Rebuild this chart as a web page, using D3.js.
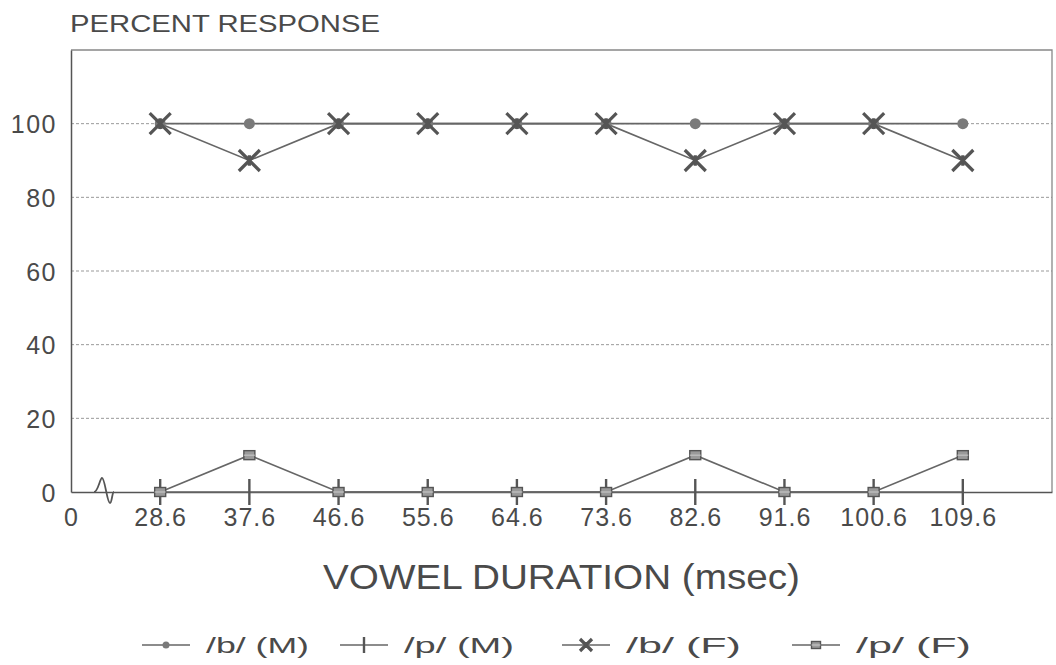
<!DOCTYPE html>
<html>
<head>
<meta charset="utf-8">
<script src="https://cdn.jsdelivr.net/npm/d3@7"></script>
<style>
  html, body { margin: 0; padding: 0; background: #fff; }
  svg text { font-family: "Liberation Sans", Arial, sans-serif; fill: #4a4a4a; }
</style>
</head>
<body>
<svg id="chart" width="1056" height="665"></svg>
<script>
// Vowel durations (msec) along the x axis; "0" sits at the origin before the axis break
const durations = ["28.6", "37.6", "46.6", "55.6", "64.6", "73.6", "82.6", "91.6", "100.6", "109.6"];
const yTicks = [0, 20, 40, 60, 80, 100];

// Percent response for each stimulus
const bMale   = [100, 100, 100, 100, 100, 100, 100, 100, 100, 100];
const pMale   = [0, 0, 0, 0, 0, 0, 0, 0, 0, 0];
const bFemale = [100, 90, 100, 100, 100, 100, 90, 100, 100, 90];
const pFemale = [0, 10, 0, 0, 0, 0, 10, 0, 0, 10];

const legendLabels = ["/b/ (M)", "/p/ (M)", "/b/ (F)", "/p/ (F)"];

const ink = "#555";
const svg = d3.select("#chart");

const margin = { left: 71, right: 1052, top: 50, bottom: 492 };

// slot 0 = origin, slots 1..10 = durations, slot 11 = right edge of frame
const x = d3.scaleLinear().domain([0, 11]).range([margin.left, margin.right]);
const y = d3.scaleLinear().domain([0, 120]).range([margin.bottom, margin.top]);
const xi = i => x(i + 1);

// Dotted horizontal grid lines
svg.append("g")
  .selectAll("line")
  .data(yTicks.filter(d => d > 0))
  .join("line")
  .attr("x1", margin.left).attr("x2", margin.right)
  .attr("y1", d => y(d)).attr("y2", d => y(d))
  .attr("stroke", "#999").attr("stroke-width", 1)
  .attr("stroke-dasharray", "3,2");

// Frame: top and right edges, light
svg.append("path")
  .attr("d", `M${margin.left},${margin.top}H${margin.right}V${margin.bottom}`)
  .attr("fill", "none").attr("stroke", "#888").attr("stroke-width", 1.3);

// Y axis
const yAxis = d3.axisLeft(y).tickValues(yTicks).tickSize(0).tickPadding(14);
const gy = svg.append("g").attr("transform", `translate(${margin.left},0)`).call(yAxis);
gy.select(".domain").attr("stroke", ink).attr("stroke-width", 1.5);
gy.selectAll("text").style("fill", "#4a4a4a").style("font-size", "25px")
  .attr("letter-spacing", 1.5).attr("dy", "0.36em");

// X axis
const xAxis = d3.axisBottom(x)
  .tickValues(d3.range(0, 11))
  .tickFormat(i => i === 0 ? "0" : durations[i - 1])
  .tickSize(0).tickPadding(18);
const gx = svg.append("g").attr("transform", `translate(0,${margin.bottom})`).call(xAxis);
gx.select(".domain").attr("stroke", ink).attr("stroke-width", 1.5);
gx.selectAll("text").style("fill", "#4a4a4a").style("font-size", "25px")
  .attr("letter-spacing", 1).attr("dy", "0.62em");

// Axis break squiggle between the origin and the first duration
const by = margin.bottom;
svg.append("path")
  .attr("d", `M94,${by} C98,${by} 100,${by - 14} 102,${by - 14}
              C105,${by - 14} 107,${by + 11} 110,${by + 11}
              C112,${by + 11} 112,${by} 114,${by}`)
  .attr("fill", "none").attr("stroke", ink).attr("stroke-width", 1.8);

// Series lines
const line = d3.line().x((d, i) => xi(i)).y(d => y(d));
[bMale, pMale, bFemale, pFemale].forEach(s => {
  svg.append("path").datum(s).attr("d", line)
    .attr("fill", "none").attr("stroke", "#666").attr("stroke-width", 1.6);
});

// Marker drawing helpers
function dot(g, cx, cy, r) {
  g.append("circle").attr("cx", cx).attr("cy", cy).attr("r", r).attr("fill", "#7a7a7a");
}
function tick(g, cx, cy, h) {
  g.append("line").attr("x1", cx).attr("x2", cx).attr("y1", cy - h).attr("y2", cy + h)
    .attr("stroke", ink).attr("stroke-width", 2.4);
}
function star(g, cx, cy, s) {
  g.append("path")
    .attr("d", `M${cx - s},${cy - s}L${cx + s},${cy + s}M${cx - s},${cy + s}L${cx + s},${cy - s}M${cx},${cy - s * 0.5}V${cy + s * 0.5}`)
    .attr("stroke", ink).attr("stroke-width", 3.2).attr("fill", "none");
}
function square(g, cx, cy, w, h) {
  g.append("rect").attr("x", cx - w / 2).attr("y", cy - h / 2).attr("width", w).attr("height", h)
    .attr("fill", "#9a9a9a").attr("stroke", ink).attr("stroke-width", 1.4);
  g.append("line").attr("x1", cx - w / 2).attr("x2", cx + w / 2).attr("y1", cy).attr("y2", cy)
    .attr("stroke", "#ccc").attr("stroke-width", 1);
}

const marks = svg.append("g");
bMale.forEach((v, i) => dot(marks, xi(i), y(v), 5.5));
pMale.forEach((v, i) => tick(marks, xi(i), y(v), 13));
pFemale.forEach((v, i) => square(marks, xi(i), y(v), 11, 9));
bFemale.forEach((v, i) => star(marks, xi(i), y(v), 10.5));

// Titles (wide lettering, stretched to the measured run length)
svg.append("text").attr("x", 70).attr("y", 32).style("font-size", "23px")
  .attr("textLength", 310).attr("lengthAdjust", "spacingAndGlyphs").text("PERCENT RESPONSE");
svg.append("text").attr("x", 323).attr("y", 589).style("font-size", "35px")
  .attr("textLength", 477).attr("lengthAdjust", "spacingAndGlyphs")
  .text("VOWEL DURATION (msec)");

// Legend
const legendX = [142, 340, 562, 792];
const legendTextW = [103, 110, 115, 115];
const ly = 645;
const leg = svg.append("g");
legendLabels.forEach((lab, k) => {
  const x0 = legendX[k];
  leg.append("line").attr("x1", x0).attr("x2", x0 + 48).attr("y1", ly).attr("y2", ly)
    .attr("stroke", "#666").attr("stroke-width", 1.4);
  const cx = x0 + 24;
  if (k === 0) dot(leg, cx, ly, 3.5);
  if (k === 1) tick(leg, cx, ly, 8);
  if (k === 2) star(leg, cx, ly, 6);
  if (k === 3) square(leg, cx, ly, 9, 7);
  leg.append("text").attr("x", x0 + 64).attr("y", ly + 8).style("font-size", "22px")
    .attr("textLength", legendTextW[k]).attr("lengthAdjust", "spacingAndGlyphs").text(lab);
});
</script>
</body>
</html>
